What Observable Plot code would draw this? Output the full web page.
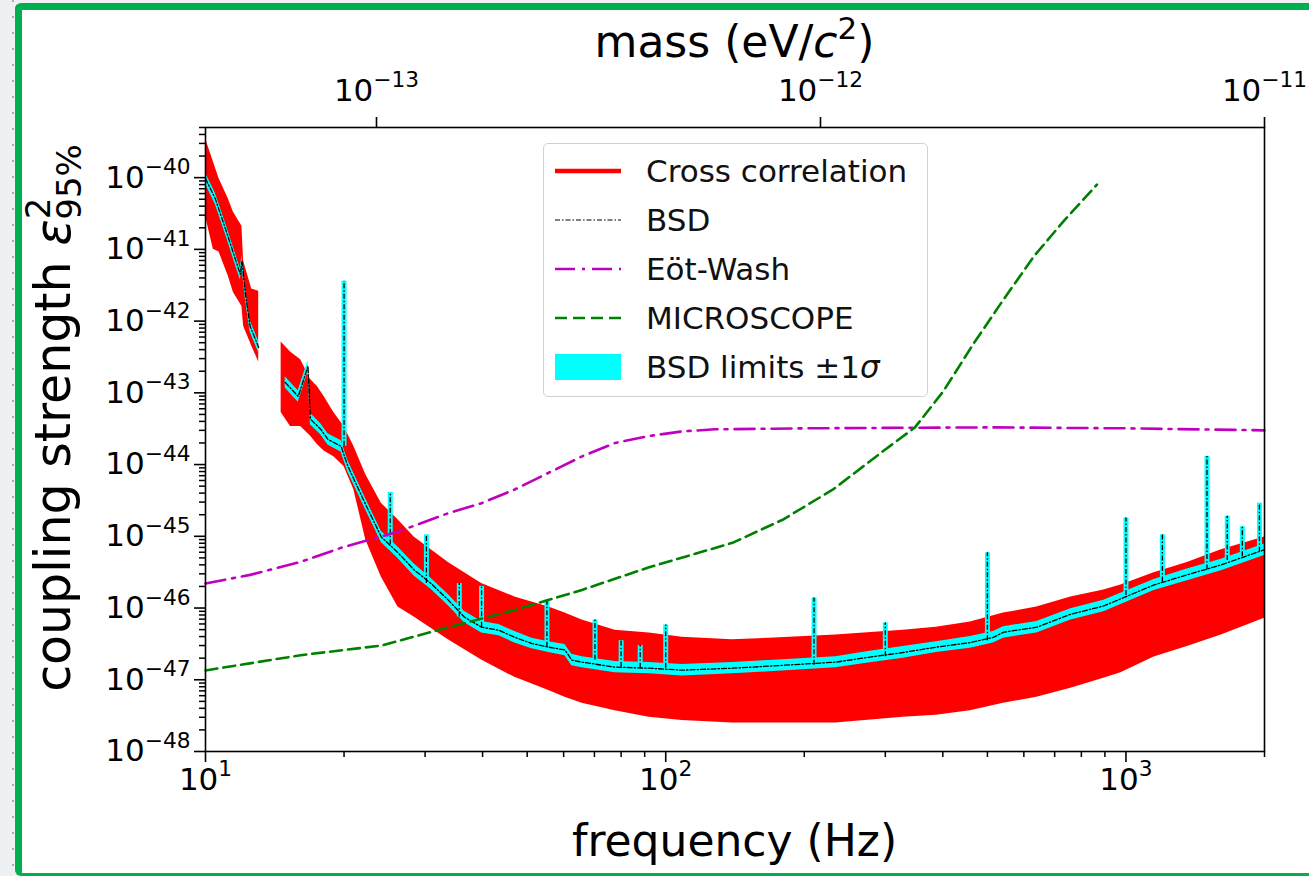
<!DOCTYPE html>
<html>
<head>
<meta charset="utf-8">
<script src="https://cdn.jsdelivr.net/npm/d3@7"></script>
<script src="https://cdn.jsdelivr.net/npm/@observablehq/plot@0.6"></script>
<style>
  html, body { margin: 0; padding: 0; }
  body { width: 1309px; height: 876px; overflow: hidden; position: relative; background: #eef0f2; font-family: "DejaVu Sans", sans-serif; }
  #dots { position: absolute; left: 12px; top: 0; width: 2px; height: 876px;
          background: repeating-linear-gradient(to bottom, #8fb3e0 0 2px, transparent 2px 16px); }
  #card { position: absolute; left: 15px; top: 3px; width: 1310px; height: 863px; background: #fff;
          border: 7px solid #00b050; border-right: none; border-bottom-width: 3px; border-radius: 6px 0 0 6px; }
  #chart, #topaxis { position: absolute; left: 0; top: 0; }
  #topaxis { pointer-events: none; }
  #legend { position: absolute; left: 543px; top: 143px; width: 385px; height: 254px; box-sizing: border-box;
            border: 1.5px solid #d2d2d2; border-radius: 5px; background: rgba(255,255,255,0.85); }
  .row { position: absolute; left: 0; height: 40px; width: 100%; }
  .row svg { position: absolute; left: 9px; top: 5px; }
  .row span { position: absolute; left: 102px; top: 0; line-height: 40px; font-size: 31px; color: #111; white-space: nowrap; }
</style>
</head>
<body>
<div id="dots"></div>
<div id="card"></div>
<div id="chart"></div>
<div id="topaxis"></div>
<div id="legend"></div>
<script>
// ---------------- data ----------------
// Cross correlation (red band): envelope, segment A (10-13 Hz) and B (14.6-2000 Hz)
const ccFreqA = [10, 10.4, 10.7, 11.2, 11.5, 12.0, 12.1, 12.6, 13.05];
const ccHighA = [3.5e-40, 1.67e-40, 9.7e-41, 5.1e-41, 3.3e-41, 2.1e-41, 6.9e-42, 2.8e-42, 2.6e-42];
const ccLowA  = [2.9e-41, 1.0e-41, 9.2e-42, 4.3e-42, 2.5e-42, 1.6e-42, 8.5e-43, 4.5e-43, 2.7e-43];

const ccFreqB = [14.6, 15.3, 16.1, 16.9, 17.5, 18.1, 19.0, 20.0, 21.0, 22.3, 24.1, 26.2, 28.4, 33.7, 39.8, 47.0, 55.7, 60.4, 65.8, 77.6, 92, 108.6, 139.6, 168, 234, 328, 387, 459, 542, 640, 759, 895, 975, 1151, 1359, 1611, 2000];
const ccHighB = [5.1e-43, 3.7e-43, 2.9e-43, 1.55e-43, 1.23e-43, 8.9e-44, 5.3e-44, 3.4e-44, 1.8e-44, 7.2e-45, 2.9e-45, 1.7e-45, 9.8e-46, 4.3e-46, 2.2e-46, 1.43e-46, 1.03e-46, 8.5e-47, 6.8e-47, 4.9e-47, 4.5e-47, 3.9e-47, 3.6e-47, 3.8e-47, 4.2e-47, 4.9e-47, 5.4e-47, 6.4e-47, 8.5e-47, 1.03e-46, 1.43e-46, 1.79e-46, 2.1e-46, 3.1e-46, 4.3e-46, 6.5e-46, 9.8e-46];
const ccLowB  = [5.3e-44, 3.4e-44, 3.4e-44, 2.5e-44, 1.9e-44, 1.55e-44, 1.29e-44, 9.4e-45, 4.5e-45, 8.9e-46, 2.7e-46, 1.03e-46, 7.5e-47, 3.6e-47, 1.88e-47, 1.08e-47, 7.1e-48, 5.7e-48, 4.7e-48, 3.7e-48, 3.0e-48, 2.7e-48, 2.5e-48, 2.5e-48, 2.5e-48, 3.0e-48, 3.2e-48, 3.7e-48, 4.7e-48, 5.7e-48, 7.6e-48, 1.05e-47, 1.25e-47, 2.07e-47, 2.9e-47, 4.2e-47, 7.2e-47];

// BSD limit (black dash-dot) with its ±1σ band (cyan)
const bsdSeg  = ["A","A","A","A","A","A","A","A","B","B","B","B","B","B","B","B","B","B","B","B","B","B","B","B","B","B","B","B","B","B","B","B","B","B","B","B","B","B","B","B","B","B","B","B","B","B","B","B","B","B"];
const bsdFreq = [10, 10.5, 11.05, 11.9, 12.0, 12.2, 12.5, 13.05, 14.9, 15.9, 16.7, 16.9, 17.8, 18.45, 19.7, 20.4, 22.3, 24.1, 26.2, 28.4, 30.9, 33.7, 36.5, 39.8, 43.4, 47.0, 51.2, 55.7, 60.4, 62.5, 65.8, 77.6, 92, 108.6, 139.6, 168, 234, 278, 328, 387, 459, 515, 542, 640, 759, 895, 1151, 1359, 1611, 2000];
const bsdVal  = [9.7e-41, 5.1e-41, 1.94e-41, 4.5e-42, 6.9e-42, 2.5e-42, 8.5e-43, 4.3e-43, 1.4e-43, 8.9e-44, 2.35e-43, 4.3e-44, 3.1e-44, 2.24e-44, 1.8e-44, 9.4e-45, 2.75e-45, 9.8e-46, 5.9e-46, 3.4e-46, 2.2e-46, 1.29e-46, 7.5e-47, 5.4e-47, 4.9e-47, 3.9e-47, 3.2e-47, 2.85e-47, 2.6e-47, 1.88e-47, 1.76e-47, 1.5e-47, 1.45e-47, 1.36e-47, 1.45e-47, 1.55e-47, 1.76e-47, 2.07e-47, 2.4e-47, 2.85e-47, 3.3e-47, 3.9e-47, 4.6e-47, 5.4e-47, 8.2e-47, 1.07e-46, 2.1e-46, 2.9e-46, 4.0e-46, 6.5e-46];
const bsdLow  = [8.1e-41, 4.25e-41, 1.62e-41, 3.75e-42, 5.75e-42, 2.08e-42, 7.1e-43, 3.6e-43, 1.17e-43, 7.4e-44, 1.96e-43, 3.6e-44, 2.6e-44, 1.87e-44, 1.5e-44, 7.8e-45, 2.3e-45, 8.2e-46, 4.9e-46, 2.8e-46, 1.83e-46, 1.08e-46, 6.3e-47, 4.5e-47, 4.1e-47, 3.25e-47, 2.7e-47, 2.4e-47, 2.17e-47, 1.57e-47, 1.47e-47, 1.25e-47, 1.21e-47, 1.13e-47, 1.21e-47, 1.29e-47, 1.47e-47, 1.72e-47, 2.0e-47, 2.4e-47, 2.75e-47, 3.25e-47, 3.8e-47, 4.5e-47, 6.8e-47, 8.9e-47, 1.75e-46, 2.4e-46, 3.3e-46, 5.4e-46];
const bsdHigh = [1.16e-40, 6.1e-41, 2.33e-41, 5.4e-42, 8.3e-42, 3.0e-42, 1.02e-42, 5.2e-43, 1.68e-43, 1.07e-43, 2.8e-43, 5.2e-44, 3.7e-44, 2.7e-44, 2.16e-44, 1.13e-44, 3.3e-45, 1.18e-45, 7.1e-46, 4.1e-46, 2.6e-46, 1.55e-46, 9.0e-47, 6.5e-47, 5.9e-47, 4.7e-47, 3.8e-47, 3.4e-47, 3.1e-47, 2.26e-47, 2.1e-47, 1.8e-47, 1.74e-47, 1.63e-47, 1.74e-47, 1.86e-47, 2.1e-47, 2.5e-47, 2.9e-47, 3.4e-47, 4.0e-47, 4.7e-47, 5.5e-47, 6.5e-47, 9.8e-47, 1.28e-46, 2.5e-46, 3.5e-46, 4.8e-46, 7.8e-46];

// narrow lines (spikes) in the BSD limit
const spikeFreq = [20, 25.2, 30.2, 35.6, 39.8, 55.2, 70.2, 80, 88, 100, 210, 300, 500, 1000, 1200, 1500, 1660, 1790, 1950];
const spikeBase = [1.8e-44, 7.6e-46, 2.2e-46, 7.5e-47, 5.4e-47, 2.85e-47, 1.88e-47, 1.5e-47, 1.45e-47, 1.45e-47, 1.6e-47, 2.1e-47, 3.5e-47, 1.5e-46, 2.3e-46, 3.4e-46, 4.6e-46, 5.2e-46, 6.0e-46];
const spikePeak = [3.6e-42, 4.1e-45, 1.05e-45, 2.2e-46, 2.0e-46, 1.29e-46, 6.8e-47, 3.5e-47, 3.0e-47, 5.8e-47, 1.38e-46, 6.2e-47, 5.9e-46, 1.8e-45, 1.05e-45, 1.3e-44, 1.9e-45, 1.36e-45, 2.9e-45];

// Eöt-Wash (magenta dash-dot)
const ewFreq = [10, 12.5, 16.1, 19.7, 26.2, 33.7, 39.8, 47.0, 55.7, 65.8, 77.6, 92, 108.6, 128, 200, 500, 1000, 2000];
const ewVal  = [2.2e-46, 2.9e-46, 4.4e-46, 6.9e-46, 1.16e-45, 2.1e-45, 2.9e-45, 4.5e-45, 7.7e-45, 1.3e-44, 2.0e-44, 2.5e-44, 2.9e-44, 3.1e-44, 3.2e-44, 3.3e-44, 3.2e-44, 3.0e-44];

// MICROSCOPE (green dashed)
const msFreq = [10, 16.1, 24.1, 33.7, 47, 65.8, 92, 139.6, 179.5, 231, 296, 348, 401, 466, 542, 630, 733, 865];
const msVal  = [1.35e-47, 2.2e-47, 3.0e-47, 5.4e-47, 9.4e-47, 1.79e-46, 3.7e-46, 8.1e-46, 1.7e-45, 4.5e-45, 1.52e-44, 3.3e-44, 1.05e-43, 4.8e-43, 2.0e-42, 7.9e-42, 2.5e-41, 8.0e-41];

// axes
const xDomain = [10, 2000];
const yDomain = [1e-48, 5e-40];
const xTicks = [10, 100, 1000];
const yTicks = [1e-48, 1e-47, 1e-46, 1e-45, 1e-44, 1e-43, 1e-42, 1e-41, 1e-40];
const massDomain = [4.12e-14, 1e-11];
const massTicks = [1e-13, 1e-12, 1e-11];

const legendLabels = ["Cross correlation", "BSD", "Eöt-Wash", "MICROSCOPE", "BSD limits ±1"];

// ---------------- tables ----------------
const ccA = ccFreqA.map((f, i) => ({f, lo: ccLowA[i], hi: ccHighA[i]}));
const ccB = ccFreqB.map((f, i) => ({f, lo: ccLowB[i], hi: ccHighB[i]}));
const bsd = bsdFreq.map((f, i) => ({f, seg: bsdSeg[i], v: bsdVal[i], lo: bsdLow[i], hi: bsdHigh[i]}));
const spikes = spikeFreq.map((f, i) => ({f, base: spikeBase[i], peak: spikePeak[i]}));
const ew = ewFreq.map((f, i) => ({f, v: ewVal[i]}));
const ms = msFreq.map((f, i) => ({f, v: msVal[i]}));

const minors = (lo, hi) => {
  const out = [];
  for (let e = Math.floor(Math.log10(lo)); e <= Math.ceil(Math.log10(hi)); e++)
    for (let m = 2; m <= 9; m++) { const v = m * Math.pow(10, e); if (v >= lo && v <= hi) out.push(v); }
  return out;
};
const expFmt = d => "10^" + String(Math.round(Math.log10(d))).replace("-", "\u2212");

const FONT = "DejaVu Sans";
const chart = Plot.plot({
  width: 1309, height: 876,
  marginLeft: 205, marginRight: 45, marginTop: 127, marginBottom: 125,
  style: {background: "transparent", fontFamily: FONT, overflow: "visible", color: "black"},
  x: {type: "log", domain: xDomain},
  y: {type: "log", domain: yDomain},
  marks: [
    Plot.areaY(ccA, {x: "f", y1: "lo", y2: "hi", fill: "#ff0000"}),
    Plot.areaY(ccB, {x: "f", y1: "lo", y2: "hi", fill: "#ff0000"}),
    Plot.areaY(bsd, {x: "f", y1: "lo", y2: "hi", z: "seg", fill: "#00ffff"}),
    Plot.ruleX(spikes, {x: "f", y1: "base", y2: "peak", stroke: "#00ffff", strokeWidth: 5}),
    Plot.line(bsd, {x: "f", y: "v", z: "seg", stroke: "black", strokeWidth: 1.3, strokeDasharray: "5,2,1.5,2"}),
    Plot.ruleX(spikes, {x: "f", y1: "base", y2: "peak", stroke: "black", strokeWidth: 1.3, strokeDasharray: "5,2,1.5,2"}),
    Plot.line(ew, {x: "f", y: "v", stroke: "#bf00bf", strokeWidth: 2.6, strokeDasharray: "20,7,3,7"}),
    Plot.line(ms, {x: "f", y: "v", stroke: "#008000", strokeWidth: 2.6, strokeDasharray: "12,6"}),
    Plot.frame({stroke: "black", strokeWidth: 1.6}),
    Plot.axisX({ticks: minors(10, 2000), tickSize: 6, tickFormat: () => "", label: null, strokeWidth: 1.5}),
    Plot.axisX({ticks: xTicks, tickSize: 11, tickPadding: 5, tickFormat: expFmt, label: null, fontSize: 31, strokeWidth: 1.6}),
    Plot.axisY({ticks: minors(1e-48, 5e-40), tickSize: 6, tickFormat: () => "", label: null, strokeWidth: 1.5}),
    Plot.axisY({ticks: yTicks, tickSize: 11, tickPadding: 4, tickFormat: expFmt, label: null, fontSize: 31, strokeWidth: 1.6})
  ]
});
document.getElementById("chart").appendChild(chart);

const topAxis = Plot.plot({
  width: 1309, height: 876,
  marginLeft: 205, marginRight: 45, marginTop: 127, marginBottom: 125,
  style: {background: "transparent", fontFamily: FONT, overflow: "visible", color: "black"},
  x: {type: "log", domain: massDomain},
  marks: [
    Plot.axisX({anchor: "top", ticks: massTicks, tickSize: 11, tickPadding: 16, tickFormat: expFmt, label: null, fontSize: 31, strokeWidth: 1.6})
  ]
});
document.getElementById("topaxis").appendChild(topAxis);

// superscript exponents in tick labels
function sup(svg) {
  d3.select(svg).selectAll("text").each(function() {
    const t = this.textContent;
    if (!t.includes("^")) return;
    const [b, e] = t.split("^");
    const el = d3.select(this);
    el.text(null);
    el.append("tspan").text(b);
    el.append("tspan").attr("font-size", "0.7em").attr("dy", "-0.62em").text(e);
  });
}
sup(chart); sup(topAxis);

// axis titles
const svg = d3.select(chart);
svg.append("text").attr("x", 734.5).attr("y", 856).attr("text-anchor", "middle")
  .attr("font-size", 44).attr("font-family", FONT).attr("fill", "black").text("frequency (Hz)");

const ttl = d3.select(topAxis).append("text").attr("x", 734.5).attr("y", 57).attr("text-anchor", "middle")
  .attr("font-size", 44).attr("font-family", FONT).attr("fill", "black");
ttl.append("tspan").text("mass (eV/");
ttl.append("tspan").attr("font-style", "italic").text("c");
ttl.append("tspan").attr("font-size", 31).attr("dy", -18).text("2");
ttl.append("tspan").attr("dy", 18).text(")");

const yl = svg.append("text").attr("transform", "translate(70,418) rotate(-90)").attr("text-anchor", "middle")
  .attr("font-size", 49).attr("font-family", FONT).attr("fill", "black");
yl.append("tspan").text("coupling strength ");
yl.append("tspan").attr("font-style", "italic").text("\u03b5");
yl.append("tspan").attr("font-size", 34).attr("dy", -20).text("2");
yl.append("tspan").attr("font-size", 34).attr("dx", -22).attr("dy", 31).text("95%");

// legend
const legend = document.getElementById("legend");
const swatches = [
  '<line x1="2" y1="15" x2="68" y2="15" stroke="#ff0000" stroke-width="4.5"/>',
  '<line x1="2" y1="15" x2="68" y2="15" stroke="#555" stroke-width="1.3" stroke-dasharray="5,2,1.5,2"/>',
  '<line x1="2" y1="15" x2="68" y2="15" stroke="#bf00bf" stroke-width="2.6" stroke-dasharray="20,7,3,7"/>',
  '<line x1="2" y1="15" x2="68" y2="15" stroke="#008000" stroke-width="2.6" stroke-dasharray="12,6"/>',
  '<rect x="2" y="2" width="66" height="26" fill="#00ffff"/>'
];
legendLabels.forEach((lab, i) => {
  const row = document.createElement("div");
  row.className = "row";
  row.style.top = (7 + 49 * i) + "px";
  row.innerHTML = '<svg width="72" height="30">' + swatches[i] + '</svg><span>' + lab +
    (i === 4 ? '<i>\u03c3</i>' : '') + '</span>';
  legend.appendChild(row);
});
</script>
</body>
</html>
